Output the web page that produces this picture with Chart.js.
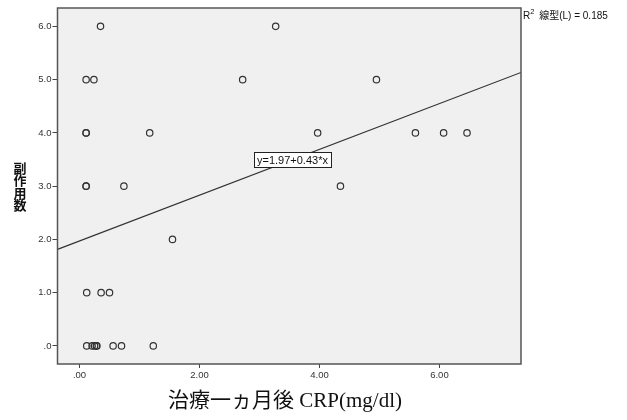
<!DOCTYPE html>
<html>
<head>
<meta charset="utf-8">
<script src="https://cdn.jsdelivr.net/npm/chart.js@4"></script>
<style>
  html, body { margin: 0; padding: 0; background: #fff; }
  #wrap { width: 627px; height: 420px; position: relative; }
</style>
</head>
<body>
<div id="wrap"><canvas id="scatterChart" width="627" height="420"></canvas></div>
<script>
// CRP one month after treatment vs number of side effects
const crpValues = [0.35, 3.27, 0.11, 0.24, 2.72, 4.95, 0.11, 0.11, 1.17, 3.97, 5.60, 6.07, 6.46,
                   0.11, 0.11, 0.74, 4.35, 1.55, 0.12, 0.36, 0.50,
                   0.12, 0.21, 0.25, 0.28, 0.29, 0.56, 0.70, 1.23];
const sideEffects = [6, 6, 5, 5, 5, 5, 4, 4, 4, 4, 4, 4, 4,
                     3, 3, 3, 3, 2, 1, 1, 1,
                     0, 0, 0, 0, 0, 0, 0, 0];

const xTicks = [0, 2, 4, 6];
const xTickLabels = ['.00', '2.00', '4.00', '6.00'];
const yTicks = [0, 1, 2, 3, 4, 5, 6];
const yTickLabels = ['.0', '1.0', '2.0', '3.0', '4.0', '5.0', '6.0'];

const xRange = [-0.367, 7.36];
const yRange = [-0.34, 6.345];

// fit reported by the chart: y = 1.97 + 0.43*x, R2 = 0.185
const fitCoef = [1.97, 0.43];
const fitLabel = 'y=1.97+0.43*x';
const fitLabelAt = 3.55;
const r2Text = ' 線型(L) = 0.185';
const xTitle = '治療一ヵ月後 CRP(mg/dl)';
const yTitle = ['副', '作', '用', '数'];

const points = crpValues.map((x, i) => ({ x: x, y: sideEffects[i] }));
const fitLine = xRange.map(x => ({ x: x, y: fitCoef[0] + fitCoef[1] * x }));

const spssFrame = {
    id: 'spssFrame',
    beforeDraw(chart) {
        const { ctx, chartArea: a } = chart;
        ctx.save();
        ctx.fillStyle = '#f0f0f0';
        ctx.fillRect(a.left, a.top, a.right - a.left, a.bottom - a.top);
        ctx.restore();
    },
    afterDatasetsDraw(chart) {
        const { ctx, chartArea: a, scales } = chart;
        ctx.save();
        ctx.strokeStyle = '#555';
        ctx.lineWidth = 1.5;
        ctx.strokeRect(a.left, a.top, a.right - a.left, a.bottom - a.top);

        // equation box on the fit line
        const lx = scales.x.getPixelForValue(fitLabelAt);
        const ly = scales.y.getPixelForValue(fitCoef[0] + fitCoef[1] * fitLabelAt);
        ctx.font = '11px "Liberation Sans", Arial, sans-serif';
        const w = ctx.measureText(fitLabel).width + 6;
        ctx.fillStyle = '#fff';
        ctx.fillRect(lx - w / 2, ly - 7.5, w, 15);
        ctx.strokeStyle = '#222';
        ctx.lineWidth = 1;
        ctx.strokeRect(Math.round(lx - w / 2) + 0.5, Math.round(ly - 7.5) + 0.5, Math.round(w), 15);
        ctx.fillStyle = '#111';
        ctx.textAlign = 'center';
        ctx.textBaseline = 'middle';
        ctx.fillText(fitLabel, lx, ly + 1);

        // R2 legend outside the plot
        ctx.textAlign = 'left';
        ctx.textBaseline = 'middle';
        ctx.font = '10px "Liberation Sans", Arial, sans-serif';
        let tx = a.right + 2;
        ctx.fillText('R', tx, 16);
        tx += ctx.measureText('R').width;
        ctx.font = '7.5px "Liberation Sans", Arial, sans-serif';
        ctx.fillText('2', tx, 12);
        tx += ctx.measureText('2').width + 2;
        ctx.font = '10px "Liberation Sans", "Noto Sans CJK JP", sans-serif';
        ctx.fillText(r2Text, tx, 16);

        // axis titles
        ctx.font = 'bold 13px "Noto Sans CJK JP", sans-serif';
        ctx.textAlign = 'center';
        yTitle.forEach((ch, i) => ctx.fillText(ch, 20, 168 + i * 12.5));
        ctx.font = '21px "Liberation Serif", "Noto Sans CJK JP", serif';
        ctx.fillText(xTitle, 285, 401);
        ctx.restore();
    }
};

const ctx = document.getElementById('scatterChart').getContext('2d');
new Chart(ctx, {
    type: 'scatter',
    data: {
        datasets: [{
            data: points,
            pointStyle: 'circle',
            pointRadius: 3.2,
            pointBorderWidth: 1.2,
            pointBorderColor: '#333',
            pointBackgroundColor: 'rgba(0,0,0,0)',
            order: 1
        }, {
            type: 'line',
            data: fitLine,
            borderColor: '#333',
            borderWidth: 1.2,
            pointRadius: 0,
            fill: false,
            order: 2
        }]
    },
    plugins: [spssFrame],
    options: {
        responsive: false,
        animation: false,
        layout: { padding: { top: 8, right: 106, left: 0, bottom: 0 } },
        plugins: { legend: { display: false }, tooltip: { enabled: false } },
        scales: {
            x: {
                type: 'linear',
                min: xRange[0],
                max: xRange[1],
                afterBuildTicks: s => { s.ticks = xTicks.map(v => ({ value: v })); },
                afterFit: s => { s.height = 56; },
                border: { display: false },
                grid: { drawOnChartArea: false, drawTicks: true, tickLength: 4, color: '#444' },
                ticks: {
                    padding: 2,
                    color: '#333',
                    font: { family: '"Liberation Sans", Arial, sans-serif', size: 9.5 },
                    callback: v => xTickLabels[xTicks.indexOf(v)]
                }
            },
            y: {
                type: 'linear',
                min: yRange[0],
                max: yRange[1],
                afterBuildTicks: s => { s.ticks = yTicks.map(v => ({ value: v })); },
                afterFit: s => { s.width = 57.5; },
                border: { display: false },
                grid: { drawOnChartArea: false, drawTicks: true, tickLength: 5, color: '#444' },
                ticks: {
                    padding: 1,
                    color: '#333',
                    font: { family: '"Liberation Sans", Arial, sans-serif', size: 9.5 },
                    callback: v => yTickLabels[yTicks.indexOf(v)]
                }
            }
        }
    }
});
</script>
</body>
</html>
